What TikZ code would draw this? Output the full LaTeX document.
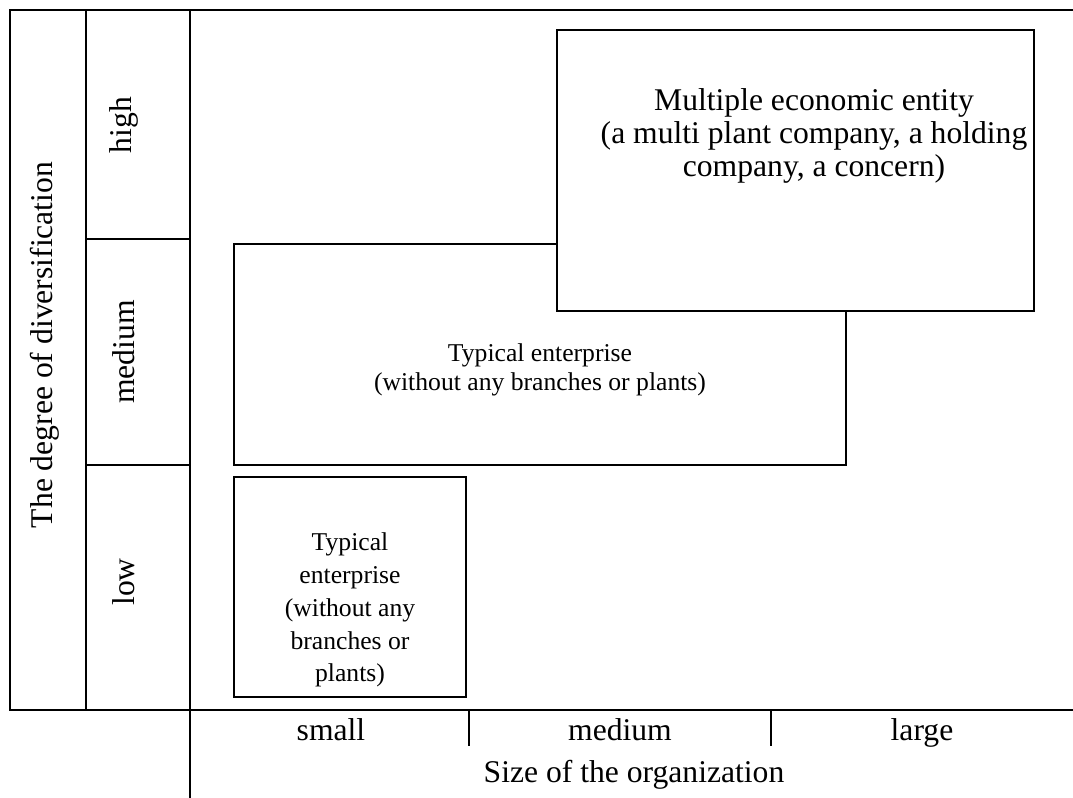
\documentclass[tikz,border=0pt]{standalone}
\usepackage{fontspec}
\setmainfont{Liberation Serif}
\usepackage{tikz}
\usetikzlibrary{positioning}

\begin{document}
\begin{tikzpicture}[
    x=0.02cm, y=-0.02cm,
    grid/.style={line width=1.1pt},
    firm/.style={draw, line width=0.8pt, fill=white, inner sep=0pt},
    firmtext/.style={align=center, font=\fontsize{14.6}{16.5}\selectfont},
    axis/.style={anchor=base, font=\fontsize{18}{21}\selectfont},
    level/.style={rotate=90, font=\fontsize{18}{21}\selectfont}
  ]
    \useasboundingbox (0,0) rectangle (1073,798);

    % Frame
    \draw[grid] (1073,10) -- (10,10) -- (10,710) -- (1073,710);
    \draw[grid] (86,10) -- (86,710);
    \draw[grid] (190,10) -- (190,798);
    \draw[grid] (86,239) -- (190,239);
    \draw[grid] (86,465) -- (190,465);
    \draw[grid] (469,710) -- (469,746);
    \draw[grid] (771,710) -- (771,746);

    % Diversification levels
    \node[level] (title) at (45,345) {The degree of diversification};
    \node[level] (high) at (124,125) {high};
    \node[level] (mid) at (124,352) {medium};
    \node[level] (low) at (124,582) {low};

    % Organization size
    \node[axis] (small) at (331,740) {small};
    \node[axis] (medium) at (620,740) {medium};
    \node[axis] (large) at (922,740) {large};
    \node[axis] (size) at (634,782) {Size of the organization};

    % Enterprise types
    \node[firm, minimum width=4.64cm, minimum height=4.4cm] (single) at (350,587) {};
    \node[firmtext, font=\fontsize{14.6}{18.7}\selectfont] (singletext) at (350,610) {Typical\\enterprise\\(without any\\branches or\\plants)};

    \node[firm, minimum width=12.24cm, minimum height=4.42cm] (typical) at (540,354.5) {};
    \node[firmtext] (typicaltext) at (540,370) {Typical enterprise\\(without any branches or plants)};

    \node[firm, minimum width=9.54cm, minimum height=5.62cm] (multi) at (795.5,170.5) {};
    \node[firmtext, font=\fontsize{18}{18.7}\selectfont] (multitext) at (814,136) {Multiple economic entity\\(a multi plant company, a holding\\company, a concern)};
  \end{tikzpicture}
\end{document}
